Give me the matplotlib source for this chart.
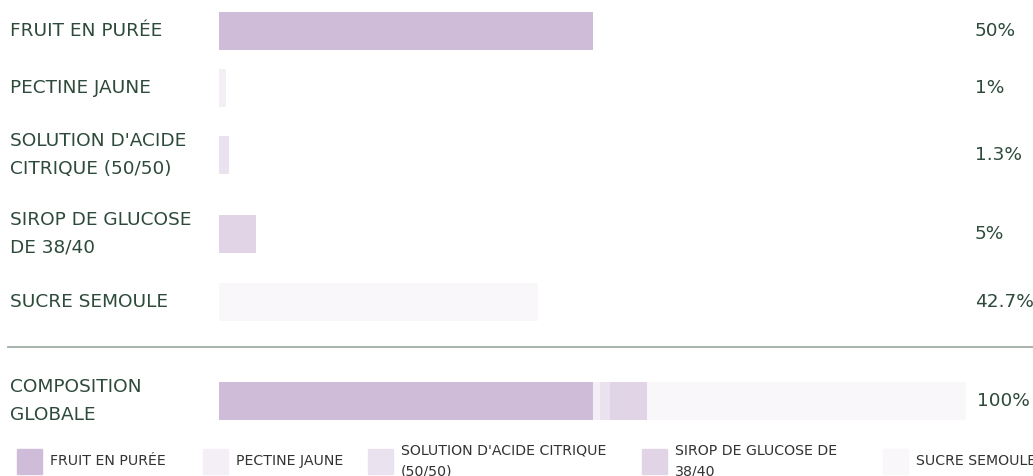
import numpy as np
import matplotlib
matplotlib.use("Agg")
import matplotlib.pyplot as plt
from matplotlib.patches import Rectangle
from matplotlib.lines import Line2D
from matplotlib.transforms import blended_transform_factory

# data
ingredients = ["FRUIT EN PURÉE", "PECTINE JAUNE", "SOLUTION D'ACIDE CITRIQUE (50/50)",
               "SIROP DE GLUCOSE DE 38/40", "SUCRE SEMOULE"]
row_labels = ["FRUIT EN PURÉE", "PECTINE JAUNE", "SOLUTION D'ACIDE\nCITRIQUE (50/50)",
              "SIROP DE GLUCOSE\nDE 38/40", "SUCRE SEMOULE"]
legend_labels = ["FRUIT EN PURÉE", "PECTINE JAUNE", "SOLUTION D'ACIDE CITRIQUE\n(50/50)",
                 "SIROP DE GLUCOSE DE\n38/40", "SUCRE SEMOULE"]
percents = [50, 1, 1.3, 5, 42.7]
total_label = "COMPOSITION\nGLOBALE"

# styling / layout (pixels from top of a 1033x476 canvas)
colors = ["#cfbcd8", "#f4eef6", "#ebe2f0", "#e1d4e7", "#faf7fb"]
text_color = "#2d4a3a"
row_y = [31, 88, 155, 234, 302]
total_y = 401
bar_h = 38
legend_x = [17, 203, 368, 642, 883]
W, H = 1033, 476

fig = plt.figure(figsize=(W / 100, H / 100), dpi=100)
ax = fig.add_axes([219 / W, 0, (966 - 219) / W, 1])
ax.set_xlim(0, 100)
ax.set_ylim(H, 0)
ax.axis("off")

# one bar per ingredient
ax.barh(row_y, percents, height=bar_h, color=colors)

# stacked total bar
lefts = np.concatenate([[0], np.cumsum(percents)[:-1]])
ax.barh([total_y] * len(percents), percents, left=lefts, height=bar_h, color=colors)

trans = blended_transform_factory(fig.transFigure, ax.transData)
for lab, val, y in zip(row_labels, percents, row_y):
    ax.text(10 / W, y, lab, transform=trans, va="center", ha="left",
            fontsize=13.3, color=text_color, linespacing=1.7)
    ax.text(975 / W, y, f"{val:g}%", transform=trans, va="center", ha="left",
            fontsize=13.3, color=text_color)

ax.text(10 / W, total_y, total_label, transform=trans, va="center", ha="left",
        fontsize=13.3, color=text_color, linespacing=1.7)
ax.text(977 / W, total_y, f"{sum(percents):g}%", transform=trans, va="center",
        ha="left", fontsize=13.3, color=text_color)

# separator
fig.add_artist(Line2D([8 / W, 1], [1 - 346.5 / H] * 2, color="#a0ada4", lw=1.3))

# legend
for x, lab, c in zip(legend_x, legend_labels, colors):
    fig.add_artist(Rectangle((x / W, 1 - 474 / H), 25 / W, 25 / H, color=c,
                             transform=fig.transFigure))
    fig.text((x + 33) / W, 1 - 461 / H, lab, va="center", ha="left",
             fontsize=10.2, color="#333333", linespacing=1.6)

fig.savefig("out.png", dpi=100)
